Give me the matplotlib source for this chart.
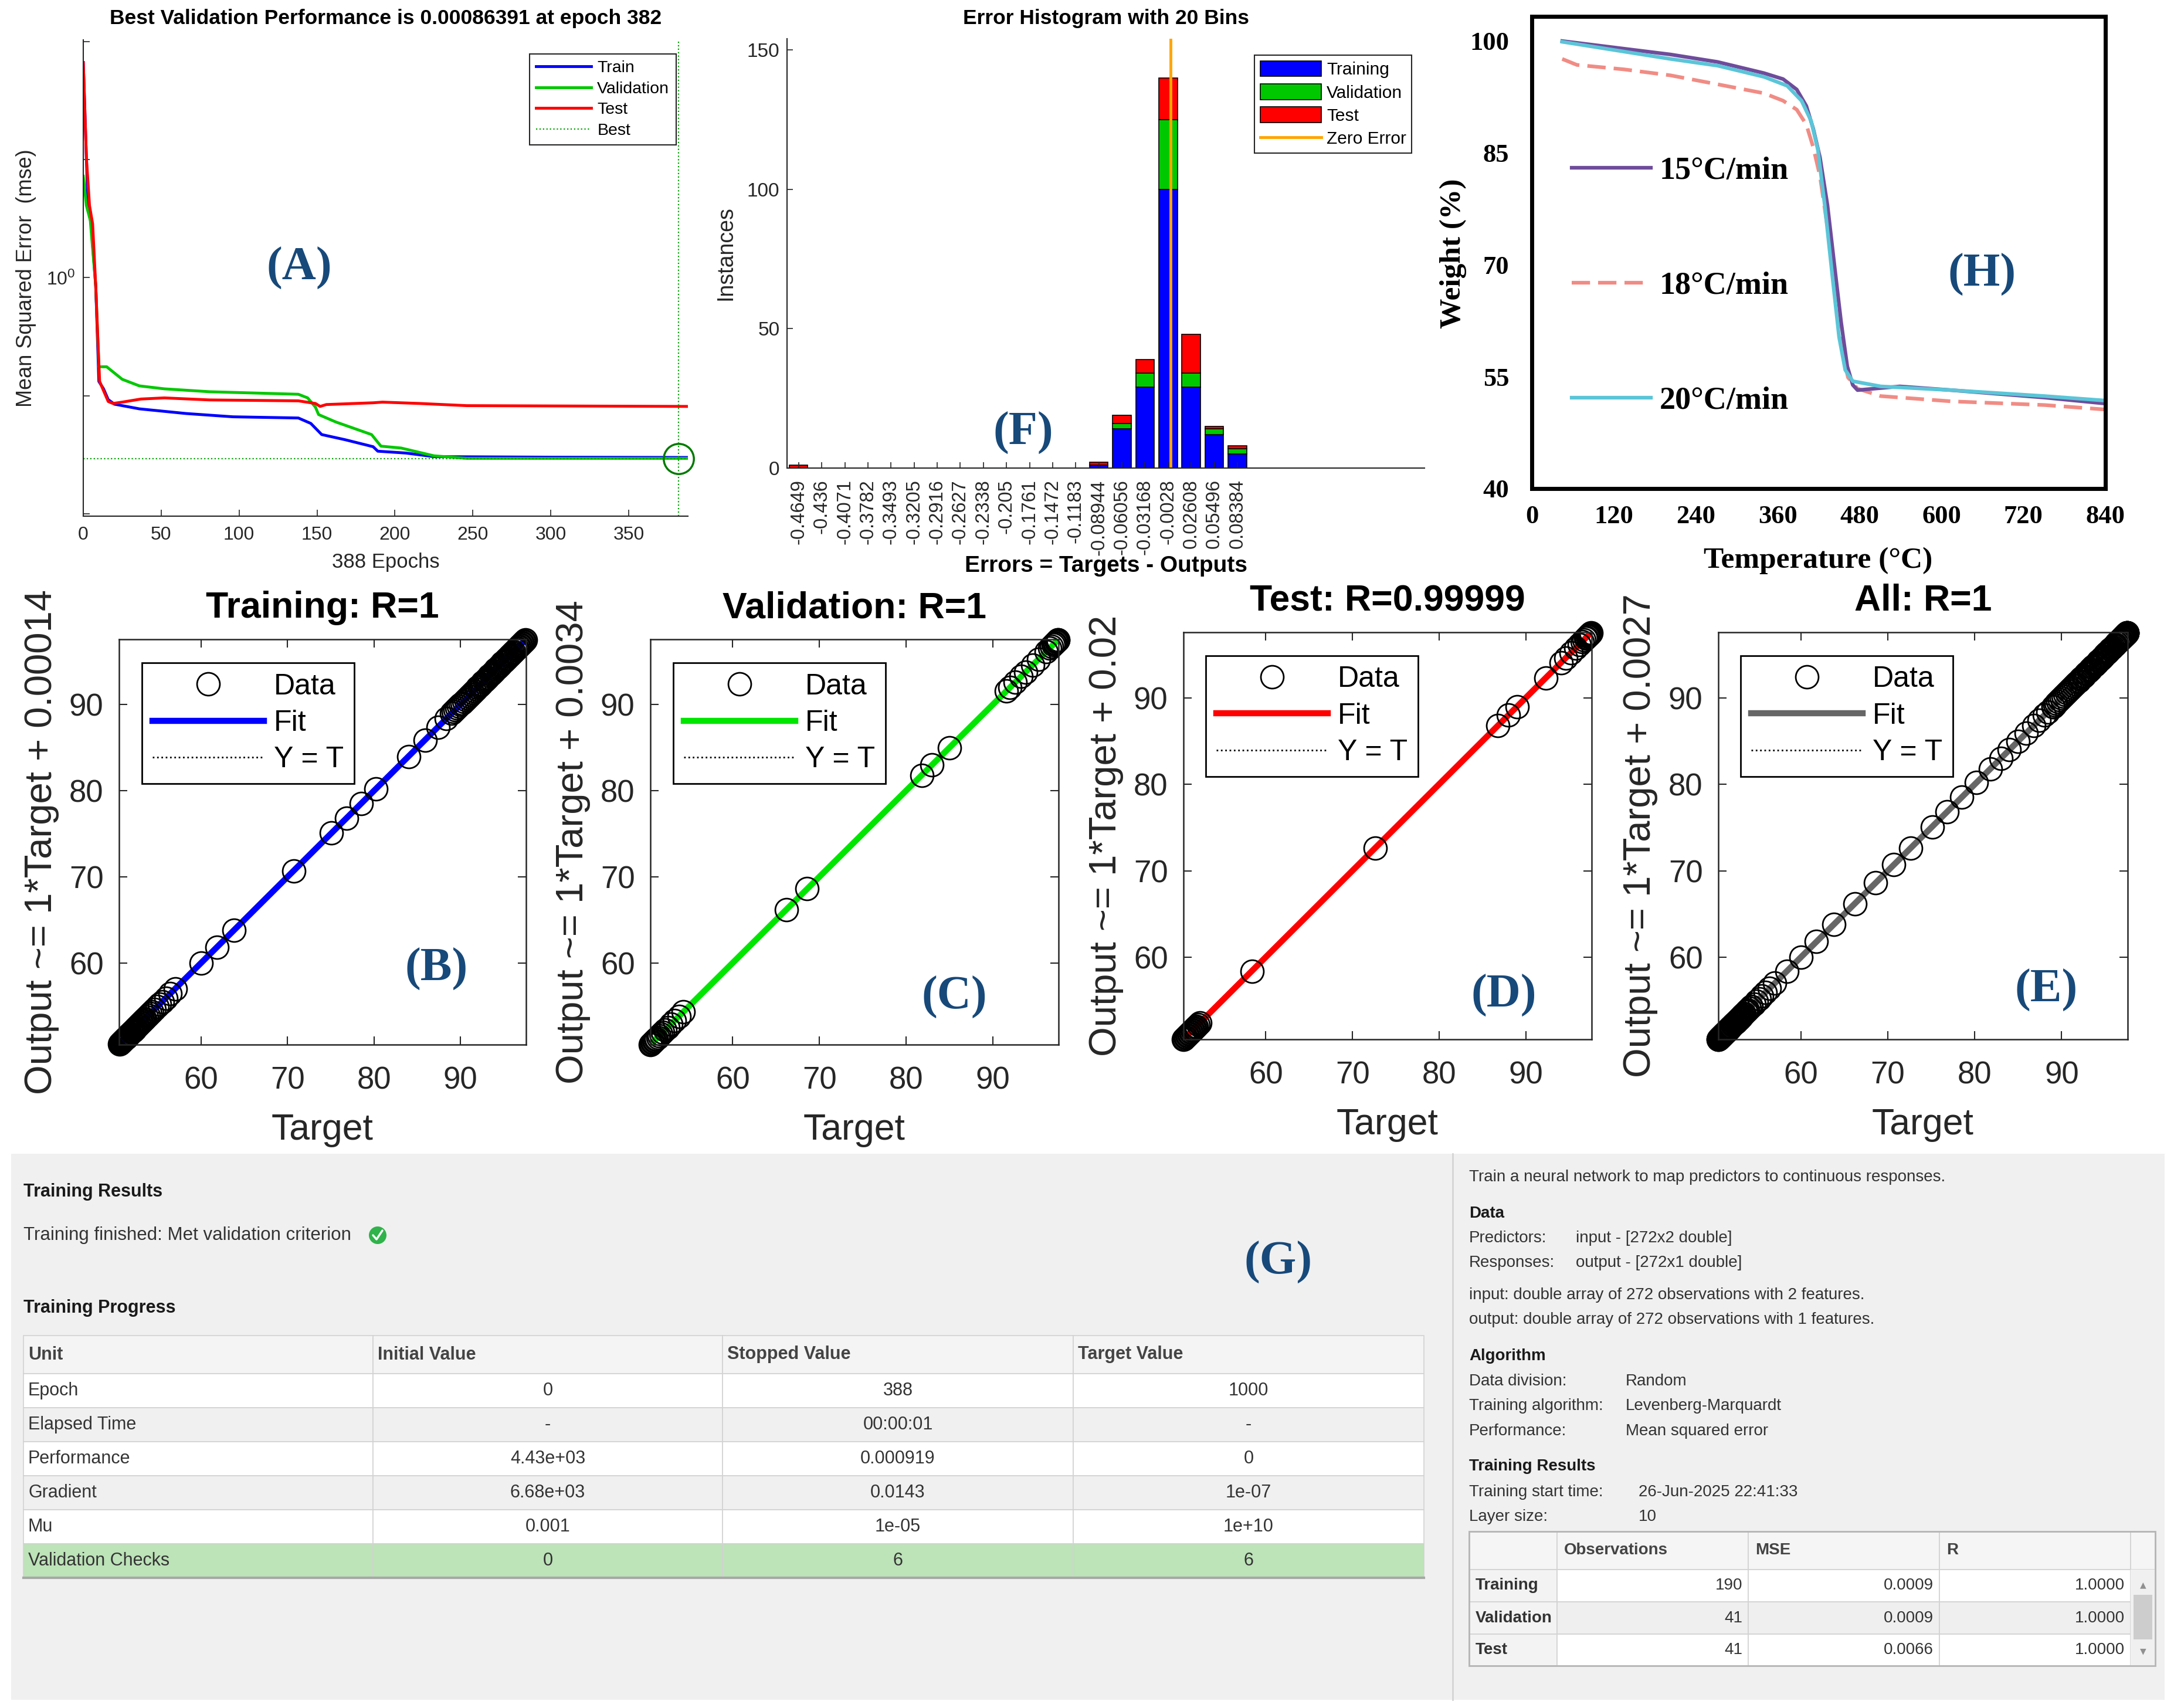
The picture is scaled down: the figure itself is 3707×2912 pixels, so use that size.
import matplotlib
matplotlib.use("Agg")
import matplotlib.pyplot as plt
from matplotlib.lines import Line2D
from matplotlib.patches import Rectangle, Circle
from matplotlib.ticker import NullLocator

plt.rcParams["font.family"] = ["Liberation Sans", "DejaVu Sans"]
plt.rcParams["mathtext.fontset"] = "custom"
plt.rcParams["mathtext.rm"] = "Liberation Sans"
plt.rcParams["mathtext.it"] = "Liberation Sans:italic"
plt.rcParams["mathtext.bf"] = "Liberation Sans:bold"

W, H = 3707, 2912
SERIF = "Liberation Serif"
AXC = "#262626"
LABEL_BLUE = "#17497a"

# ---------------- (A) training performance (mse per epoch) ----------------
train_epochs = [0, 3, 5, 8, 10, 13, 16, 20, 36, 66, 96, 138, 146, 153, 168, 186, 189, 207, 225, 300, 388]
train_mse = [4430, 16.7, 8.2, 0.72, 0.0175, 0.0131, 0.0086, 0.0072, 0.0060, 0.0050, 0.0044,
             0.0042, 0.0034, 0.0022, 0.0018, 0.00137, 0.00115, 0.00107, 0.00093, 0.00091, 0.00090]
val_epochs = [0, 2, 4.5, 8, 10, 15, 25, 36, 52, 81, 138, 144, 149, 151, 162, 185, 191, 204,
              225, 246, 300, 388]
val_mse = [52.5, 16.7, 9.4, 0.72, 0.031, 0.031, 0.019, 0.0147, 0.0131, 0.0117, 0.0106, 0.0092,
           0.0064, 0.0048, 0.0036, 0.0022, 0.0014, 0.0013, 0.00096, 0.00087, 0.00087, 0.00087]
test_epochs = [0, 2, 4, 6, 8, 9.6, 10.5, 13, 16, 19, 25, 37, 52, 81, 138, 149, 152, 156, 186,
               192, 216, 246, 388]
test_mse = [4430, 107, 16.7, 8.2, 0.72, 0.063, 0.0175, 0.0122, 0.0080, 0.0074, 0.0078, 0.0088,
            0.0092, 0.0085, 0.0082, 0.0074, 0.0066, 0.0071, 0.0076, 0.0078, 0.0074, 0.0068, 0.0066]
best_epoch = 382
best_perf = 0.00086391

# ---------------- (F) error histogram ----------------
bin_labels = ["-0.4649", "-0.436", "-0.4071", "-0.3782", "-0.3493", "-0.3205", "-0.2916",
              "-0.2627", "-0.2338", "-0.205", "-0.1761", "-0.1472", "-0.1183", "-0.08944",
              "-0.06056", "-0.03168", "-0.0028", "0.02608", "0.05496", "0.08384"]
hist_train = [0] * 13 + [1, 14, 29, 100, 29, 12, 5]
hist_val = [0] * 13 + [0, 2, 5, 25, 5, 2, 2]
hist_test = [1] + [0] * 12 + [1, 3, 5, 15, 14, 1, 1]

# ---------------- (H) TGA curves ----------------
temp_15 = [44.5, 203, 272, 340, 368, 388, 402, 412, 422, 433, 443, 453, 462, 470, 477, 539, 614, 751, 840]
weight_15 = [100, 98.2, 97.2, 95.7, 94.9, 93.5, 91.3, 88.3, 84.4, 78.0, 70.1, 62.3, 56.4, 53.9,
             53.2, 53.7, 53.2, 52.2, 51.4]
temp_18 = [44.5, 66, 135, 203, 272, 340, 368, 388, 402, 412, 422, 433, 443, 453, 463, 477, 511, 614, 751, 840]
weight_18 = [97.6, 96.8, 96.2, 95.4, 94.2, 93.0, 92.0, 90.8, 88.8, 85.8, 81.9, 75.0, 66.7, 59.3,
             54.9, 53.4, 52.4, 51.7, 51.2, 50.6]
temp_20 = [44.5, 203, 272, 340, 374, 395, 409, 419, 429, 440, 450, 459, 470, 511, 614, 751, 840]
weight_20 = [99.9, 97.6, 96.7, 95.2, 94.0, 92.0, 89.3, 85.4, 78.0, 68.6, 60.3, 55.9, 54.4, 53.7,
             53.2, 52.4, 51.8]

# ---------------- (B-E) regression targets (outputs coincide at R=1) ----------------
train_targets = [
    50.6, 50.65, 50.7, 50.75, 50.8, 50.85, 50.9, 50.95, 51.0, 51.05, 51.1, 51.15, 51.2, 51.25,
    51.3, 51.35, 51.4, 51.45, 51.5, 51.55, 51.6, 51.65, 51.7, 51.75, 51.8, 51.9, 52.0, 52.1,
    52.2, 52.3, 52.4, 52.5, 52.6, 52.7, 52.8, 52.9, 53.0, 53.1, 53.2, 53.3, 53.4, 53.5, 53.7,
    53.9, 54.1, 54.3, 54.6, 54.9, 55.2, 55.5, 55.9, 56.4, 57.0,
    60.0, 61.8, 63.8, 70.7, 75.1, 76.8, 78.5, 80.2, 84.0, 85.9, 87.4, 88.4,
    89.0, 89.2, 89.4, 89.6, 89.8, 90.0, 90.2, 90.4, 90.6, 90.8, 91.0, 91.2, 91.4, 91.6, 91.8,
    92.0, 92.15, 92.3, 92.45, 92.6, 92.75, 92.9, 93.05, 93.2, 93.35, 93.5, 93.65, 93.8, 93.95,
    94.1, 94.25, 94.4, 94.55, 94.7, 94.85, 95.0, 95.15, 95.3, 95.45, 95.6, 95.75, 95.9, 96.05,
    96.2, 96.35, 96.5, 96.6, 96.7, 96.8, 96.9, 97.0, 97.1, 97.2, 97.3, 97.4, 97.5]
val_targets = [
    50.5, 50.6, 50.7, 50.8, 50.9, 51.0, 51.1, 51.2, 51.35, 51.5, 51.7, 51.9, 52.2, 52.5, 52.9,
    53.3, 53.8, 54.3, 66.2, 68.6, 81.8, 83.0, 85.0, 91.6, 92.0, 92.6, 93.3, 93.8, 94.6, 95.3,
    96.2, 96.6, 96.8, 97.0, 97.1, 97.2, 97.3, 97.4, 97.45, 97.5, 97.55]
test_targets = [
    50.5, 50.6, 50.7, 50.8, 50.9, 51.0, 51.1, 51.2, 51.3, 51.4, 51.5, 51.6, 51.7, 51.8, 51.9,
    52.0, 52.2, 52.4, 58.4, 72.6, 86.8, 88.0, 89.0, 92.3, 94.1, 94.6, 95.2, 95.8, 96.2, 96.5,
    96.7, 96.9, 97.0, 97.1, 97.2, 97.25, 97.3, 97.35, 97.4, 97.45, 97.5]
all_targets = train_targets + val_targets + test_targets
reg_titles = ["Training: R=1", "Validation: R=1", "Test: R=0.99999", "All: R=1"]
reg_intercepts = [0.00014, 0.0034, 0.02, 0.0027]
reg_intercept_text = ["0.00014", "0.0034", "0.02", "0.0027"]
reg_slope = 1
reg_lim = (50.5, 97.6)

# ---------------- (G) training progress table ----------------
progress_header = ["Unit", "Initial Value", "Stopped Value", "Target Value"]
progress_units = ["Epoch", "Elapsed Time", "Performance", "Gradient", "Mu", "Validation Checks"]
progress_initial = ["0", "-", "4.43e+03", "6.68e+03", "0.001", "0"]
progress_stopped = ["388", "00:00:01", "0.000919", "0.0143", "1e-05", "6"]
progress_target = ["1000", "-", "0", "1e-07", "1e+10", "6"]

# ---------------- summary table ----------------
obs_header = ["Observations", "MSE", "R"]
obs_sets = ["Training", "Validation", "Test"]
obs_counts = [190, 41, 41]
obs_mse = ["0.0009", "0.0009", "0.0066"]
obs_r = ["1.0000", "1.0000", "1.0000"]


fig = plt.figure(figsize=(W / 100, H / 100), dpi=100)


def px_axes(box):
    x0, y0, x1, y1 = box
    return fig.add_axes([x0 / W, 1 - y1 / H, (x1 - x0) / W, (y1 - y0) / H])


def frac(box, px, py):
    x0, y0, x1, y1 = box
    return (px - x0) / (x1 - x0), (y1 - py) / (y1 - y0)


# ---------------- panel A ----------------
boxA = (142, 68, 1173, 880)
ax = px_axes(boxA)
ax.semilogy(train_epochs, train_mse, color="#0000ff", lw=3.5, label="Train")
ax.semilogy(val_epochs, val_mse, color="#00c800", lw=3.5, label="Validation")
ax.semilogy(test_epochs, test_mse, color="#ff0000", lw=3.5, label="Test")
ax.axvline(best_epoch, color="#00a000", ls=":", lw=1.6)
ax.axhline(best_perf, color="#00a000", ls=":", lw=1.6, label="Best")
ax.plot([best_epoch], [best_perf], "o", ms=37, mfc="none", mec="#007a00", mew=2.5, clip_on=False)
ax.set_xlim(0, 388)
ax.set_ylim(10 ** -4.04, 10 ** 4.03)
ax.set_yticks([1e-4, 1e-2, 1, 1e2, 1e4])
ax.set_yticklabels(["", "", "$10^{0}$", "", ""])
ax.yaxis.set_minor_locator(NullLocator())
ax.set_xticks(range(0, 351, 50))
for s in ("top", "right"):
    ax.spines[s].set_visible(False)
for s in ("left", "bottom"):
    ax.spines[s].set_color(AXC)
    ax.spines[s].set_linewidth(1.5)
ax.tick_params(direction="in", length=8, width=1.2, colors=AXC, labelsize=23)
ax.tick_params(axis="x", pad=12)
ax.tick_params(axis="y", pad=10)
ax.set_title("Best Validation Performance is 0.00086391 at epoch 382", fontsize=25.5,
             fontweight="bold", y=1.0345, va="center")
ax.set_xlabel("388 Epochs", fontsize=25, color=AXC, va="center")
ax.xaxis.set_label_coords(0.5, -0.097)
ax.set_ylabel("Mean Squared Error  (mse)", fontsize=26, color=AXC, va="center")
ax.yaxis.set_label_coords(-0.095, 0.5)
ax.legend(loc="upper left", bbox_to_anchor=frac(boxA, 903, 92), borderaxespad=0, fontsize=20.5,
          handlelength=3.3, handletextpad=0.35, labelspacing=0.33, borderpad=0.4,
          fancybox=False, framealpha=1, edgecolor=AXC).get_frame().set_linewidth(1.5)

# ---------------- panel F ----------------
boxF = (1342, 66, 2429, 798)
ax = px_axes(boxF)
centers = [float(s) for s in bin_labels]
bw = (centers[-1] - centers[0]) / (len(centers) - 1)
bottom_test = [a + b for a, b in zip(hist_train, hist_val)]
b1 = ax.bar(centers, hist_train, width=0.8 * bw, color="#0000ff", edgecolor="black", lw=1.2,
            label="Training")
b2 = ax.bar(centers, hist_val, width=0.8 * bw, bottom=hist_train, color="#00c800",
            edgecolor="black", lw=1.2, label="Validation")
b3 = ax.bar(centers, hist_test, width=0.8 * bw, bottom=bottom_test, color="#ff0000",
            edgecolor="black", lw=1.2, label="Test")
zl = ax.axvline(0, color="#ffa500", lw=3.5, label="Zero Error")
ax.set_xlim(centers[0] - 0.5 * bw, centers[-1] + 8.1 * bw)
ax.set_ylim(0, 154)
ax.set_yticks([0, 50, 100, 150])
ax.set_xticks(centers)
ax.set_xticklabels(bin_labels, rotation=90)
for s in ("top", "right"):
    ax.spines[s].set_visible(False)
for s in ("left", "bottom"):
    ax.spines[s].set_color(AXC)
    ax.spines[s].set_linewidth(1.5)
ax.tick_params(direction="in", length=7, width=1.2, colors=AXC, labelsize=24)
ax.tick_params(axis="x", labelsize=23.5, pad=14)
ax.tick_params(axis="y", pad=9)
ax.set_title("Error Histogram with 20 Bins", fontsize=25.5, fontweight="bold", y=1.0355, va="center")
ax.set_xlabel("Errors = Targets - Outputs", fontsize=28, fontweight="bold", va="center")
ax.xaxis.set_label_coords(0.5, -0.228)
ax.set_ylabel("Instances", fontsize=27, color=AXC, va="center")
ax.yaxis.set_label_coords(-0.096, 0.5)
ax.legend(handles=[b1, b2, b3, zl], loc="upper left", bbox_to_anchor=frac(boxF, 2139, 94),
          borderaxespad=0, fontsize=21.5, handlelength=3.5, handleheight=1.0, handletextpad=0.3,
          labelspacing=0.33, borderpad=0.32, fancybox=False, framealpha=1,
          edgecolor=AXC).get_frame().set_linewidth(1.5)

# ---------------- panel H ----------------
boxH = (2612, 28, 3590, 833)
ax = px_axes(boxH)
l18, = ax.plot(temp_18, weight_18, color="#f08c84", lw=4.5, ls=(0, (5, 2.2)), label="18°C/min")
l15, = ax.plot(temp_15, weight_15, color="#6f4c9b", lw=4.5, label="15°C/min")
l20, = ax.plot(temp_20, weight_20, color="#5bc5d8", lw=4.5, label="20°C/min")
ax.set_xlim(0, 840)
ax.set_ylim(40, 103.3)
ax.set_xticks(range(0, 841, 120))
ax.set_yticks([40, 55, 70, 85, 100])
for s in ax.spines.values():
    s.set_linewidth(5)
    s.set_color("black")
ax.tick_params(length=0, labelsize=32, colors="black")
ax.tick_params(axis="x", pad=20)
ax.tick_params(axis="y", pad=28)
for lab in ax.get_xticklabels() + ax.get_yticklabels():
    lab.set_fontfamily(SERIF)
    lab.set_fontweight("bold")
ax.set_xlabel("Temperature (°C)", fontsize=37, fontfamily=SERIF, fontweight="bold", va="center")
ax.xaxis.set_label_coords(0.499, -0.153)
ax.set_ylabel("Weight (%)", fontsize=37, fontfamily=SERIF, fontweight="bold", va="center")
ax.yaxis.set_label_coords(-0.137, 0.498)
ax.legend(handles=[l15, l18, l20], frameon=False, loc="center left",
          bbox_to_anchor=frac(boxH, 2680, 488), borderaxespad=0, borderpad=0,
          handlelength=2.5, handletextpad=0.26, labelspacing=2.7,
          prop=dict(family=SERIF, weight="bold", size=39))

# ---------------- panels B-E ----------------
reg_boxes = [(203, 1090, 897, 1781), (1109, 1090, 1805, 1781),
             (2018, 1078, 2714, 1772), (2930, 1078, 3628, 1772)]
reg_colors = ["#0000ff", "#00e600", "#ff0000", "#666666"]
reg_sets = [train_targets, val_targets, test_targets, all_targets]
legend_corners = [(242, 1130), (1148, 1130), (2056, 1118), (2968, 1118)]

for i in range(4):
    box = reg_boxes[i]
    ax = px_axes(box)
    lo, hi = reg_lim
    targets = reg_sets[i]
    outputs = targets
    yt, = ax.plot([lo, hi], [lo, hi], ":", color="black", lw=2, label="Y = T")
    fit, = ax.plot([lo, hi], [reg_slope * lo + reg_intercepts[i], reg_slope * hi + reg_intercepts[i]],
                   "-", color=reg_colors[i], lw=7.5, label="Fit")
    dat, = ax.plot(targets, outputs, "o", ls="none", ms=28, mfc="none", mec="black", mew=2.0,
                   clip_on=False, label="Data")
    ax.set_xlim(lo, hi)
    ax.set_ylim(lo, hi)
    ax.set_xticks([60, 70, 80, 90])
    ax.set_yticks([60, 70, 80, 90])
    for s in ax.spines.values():
        s.set_linewidth(1.8)
        s.set_color(AXC)
    ax.tick_params(direction="in", length=10, width=1.5, top=True, right=True,
                   colors=AXC, labelsize=38)
    ax.tick_params(axis="x", pad=26)
    ax.tick_params(axis="y", pad=19)
    ax.set_title(reg_titles[i], fontsize=45, fontweight="bold", y=1.065, va="center")
    ax.set_xlabel("Target", fontsize=45, color=AXC, va="center")
    ax.xaxis.set_label_coords(0.5, -0.21)
    ax.set_ylabel("Output ~= 1*Target + " + reg_intercept_text[i], fontsize=47, color=AXC, va="center")
    ax.yaxis.set_label_coords(-0.19, 0.5)
    lx, ly = legend_corners[i]
    ax.legend(handles=[dat, fit, yt], loc="upper left", bbox_to_anchor=frac(box, lx, ly),
              borderaxespad=0, fontsize=36, handlelength=3.8, handletextpad=0.35,
              labelspacing=0.33, borderpad=0.35, fancybox=False, framealpha=1,
              edgecolor="black").get_frame().set_linewidth(2)

# ---------------- overlay: G panel, summary panel, panel letters ----------------
ov = fig.add_axes([0, 0, 1, 1], zorder=10)
ov.set_xlim(0, W)
ov.set_ylim(H, 0)
ov.axis("off")

ov.add_patch(Rectangle((19, 1967), 3691 - 19, 2898 - 1967, facecolor="#f0f0f0", edgecolor="none"))
ov.plot([2477, 2477], [1967, 2898], color="#d4d4d4", lw=2)

TXT = "#333333"
ov.text(40, 2032, "Training Results", fontsize=22, fontweight="bold", color="#1a1a1a", va="center")
ov.text(40, 2106, "Training finished: Met validation criterion", fontsize=22.5, color=TXT, va="center")
ov.add_patch(Circle((644, 2106), 15, facecolor="#2fb34a", edgecolor="none"))
ov.plot([636, 642, 652], [2106, 2113, 2098], color="white", lw=2.5, solid_capstyle="round")
ov.text(40, 2230, "Training Progress", fontsize=22, fontweight="bold", color="#1a1a1a", va="center")

g_cols = [40, 636, 1232, 1830, 2428]
g_rows = [2277, 2342, 2400, 2458, 2516, 2574, 2632, 2690]
g_fill = ["#f4f4f4", "#ffffff", "#f0f0f0", "#ffffff", "#f0f0f0", "#ffffff", "#bde3b8"]
for r in range(len(g_rows) - 1):
    y0, y1 = g_rows[r], g_rows[r + 1]
    for c in range(4):
        ov.add_patch(Rectangle((g_cols[c], y0), g_cols[c + 1] - g_cols[c], y1 - y0,
                               facecolor=g_fill[r], edgecolor="#d2d2d2", lw=1.2))
ov.plot([g_cols[0], g_cols[-1]], [g_rows[-1], g_rows[-1]], color="#a8a8a8", lw=3)
for c in range(4):
    ov.text(g_cols[c] + 8, (g_rows[0] + g_rows[1]) / 2, progress_header[c], fontsize=22,
            fontweight="bold", color="#444444", va="center")
for r in range(len(progress_units)):
    yc = (g_rows[r + 1] + g_rows[r + 2]) / 2
    ov.text(g_cols[0] + 8, yc, progress_units[r], fontsize=22, color=TXT, va="center")
    for c, col in enumerate([progress_initial, progress_stopped, progress_target]):
        ov.text((g_cols[c + 1] + g_cols[c + 2]) / 2, yc, col[r], fontsize=22, color=TXT,
                va="center", ha="center")

# summary panel
rx, vx, vx2 = 2505, 2687, 2772
ov.text(rx, 2007, "Train a neural network to map predictors to continuous responses.",
        fontsize=20, color=TXT, va="center")
ov.text(rx, 2069, "Data", fontsize=20, fontweight="bold", color="#1a1a1a", va="center")
ov.text(rx, 2111, "Predictors:", fontsize=20, color=TXT, va="center")
ov.text(vx, 2111, "input - [272x2 double]", fontsize=20, color=TXT, va="center")
ov.text(rx, 2153, "Responses:", fontsize=20, color=TXT, va="center")
ov.text(vx, 2153, "output - [272x1 double]", fontsize=20, color=TXT, va="center")
ov.text(rx, 2208, "input: double array of 272 observations with 2 features.", fontsize=20,
        color=TXT, va="center")
ov.text(rx, 2250, "output: double array of 272 observations with 1 features.", fontsize=20,
        color=TXT, va="center")
ov.text(rx, 2312, "Algorithm", fontsize=20, fontweight="bold", color="#1a1a1a", va="center")
ov.text(rx, 2355, "Data division:", fontsize=20, color=TXT, va="center")
ov.text(vx2, 2355, "Random", fontsize=20, color=TXT, va="center")
ov.text(rx, 2397, "Training algorithm:", fontsize=20, color=TXT, va="center")
ov.text(vx2, 2397, "Levenberg-Marquardt", fontsize=20, color=TXT, va="center")
ov.text(rx, 2440, "Performance:", fontsize=20, color=TXT, va="center")
ov.text(vx2, 2440, "Mean squared error", fontsize=20, color=TXT, va="center")
ov.text(rx, 2500, "Training Results", fontsize=20, fontweight="bold", color="#1a1a1a", va="center")
ov.text(rx, 2544, "Training start time:", fontsize=20, color=TXT, va="center")
ov.text(2794, 2544, "26-Jun-2025 22:41:33", fontsize=20, color=TXT, va="center")
ov.text(rx, 2586, "Layer size:", fontsize=20, color=TXT, va="center")
ov.text(2794, 2586, "10", fontsize=20, color=TXT, va="center")

s_cols = [2505, 2655, 2981, 3307, 3633, 3675]
s_rows = [2611, 2676, 2731, 2786, 2840]
body_fill = ["#ffffff", "#efefef", "#ffffff"]
for c in range(5):
    ov.add_patch(Rectangle((s_cols[c], s_rows[0]), s_cols[c + 1] - s_cols[c], s_rows[1] - s_rows[0],
                           facecolor="#f5f5f5", edgecolor="#d2d2d2", lw=1.2))
for r in range(3):
    y0, y1 = s_rows[r + 1], s_rows[r + 2]
    ov.add_patch(Rectangle((s_cols[0], y0), s_cols[1] - s_cols[0], y1 - y0,
                           facecolor="#f3f3f3", edgecolor="#d2d2d2", lw=1.2))
    for c in range(1, 4):
        ov.add_patch(Rectangle((s_cols[c], y0), s_cols[c + 1] - s_cols[c], y1 - y0,
                               facecolor=body_fill[r], edgecolor="#d2d2d2", lw=1.2))
ov.add_patch(Rectangle((s_cols[4], s_rows[1]), s_cols[5] - s_cols[4], s_rows[-1] - s_rows[1],
                       facecolor="#f0f0f0", edgecolor="none"))
ov.add_patch(Rectangle((3638, 2719), 32, 76, facecolor="#cdcdcd", edgecolor="none"))
ov.text(3654, 2702, "▲", fontsize=10, color="#909090", ha="center", va="center", family="DejaVu Sans")
ov.text(3654, 2815, "▼", fontsize=10, color="#909090", ha="center", va="center", family="DejaVu Sans")
ov.add_patch(Rectangle((s_cols[0], s_rows[0]), s_cols[-1] - s_cols[0], s_rows[-1] - s_rows[0],
                       facecolor="none", edgecolor="#b5b5b5", lw=2))
for c in range(3):
    ov.text(s_cols[c + 1] + 12, (s_rows[0] + s_rows[1]) / 2, obs_header[c], fontsize=20,
            fontweight="bold", color="#444444", va="center")
for r in range(3):
    yc = (s_rows[r + 1] + s_rows[r + 2]) / 2
    ov.text(s_cols[0] + 11, yc, obs_sets[r], fontsize=20, fontweight="bold", color=TXT, va="center")
    ov.text(s_cols[2] - 10, yc, str(obs_counts[r]), fontsize=20, color=TXT, va="center", ha="right")
    ov.text(s_cols[3] - 10, yc, obs_mse[r], fontsize=20, color=TXT, va="center", ha="right")
    ov.text(s_cols[4] - 10, yc, obs_r[r], fontsize=20, color=TXT, va="center", ha="right")

# panel letters
panel_letters = ["(A)", "(F)", "(H)", "(B)", "(C)", "(D)", "(E)", "(G)"]
letter_xy = [(510, 457), (1745, 738), (3380, 468), (744, 1652), (1627, 1700),
             (2564, 1697), (3489, 1688), (2180, 2152)]
for txt, (x, y) in zip(panel_letters, letter_xy):
    ov.text(x, y, txt, fontsize=58, fontfamily=SERIF, fontweight="bold", color=LABEL_BLUE,
            ha="center", va="center")

fig.savefig("out.png", dpi=100)
